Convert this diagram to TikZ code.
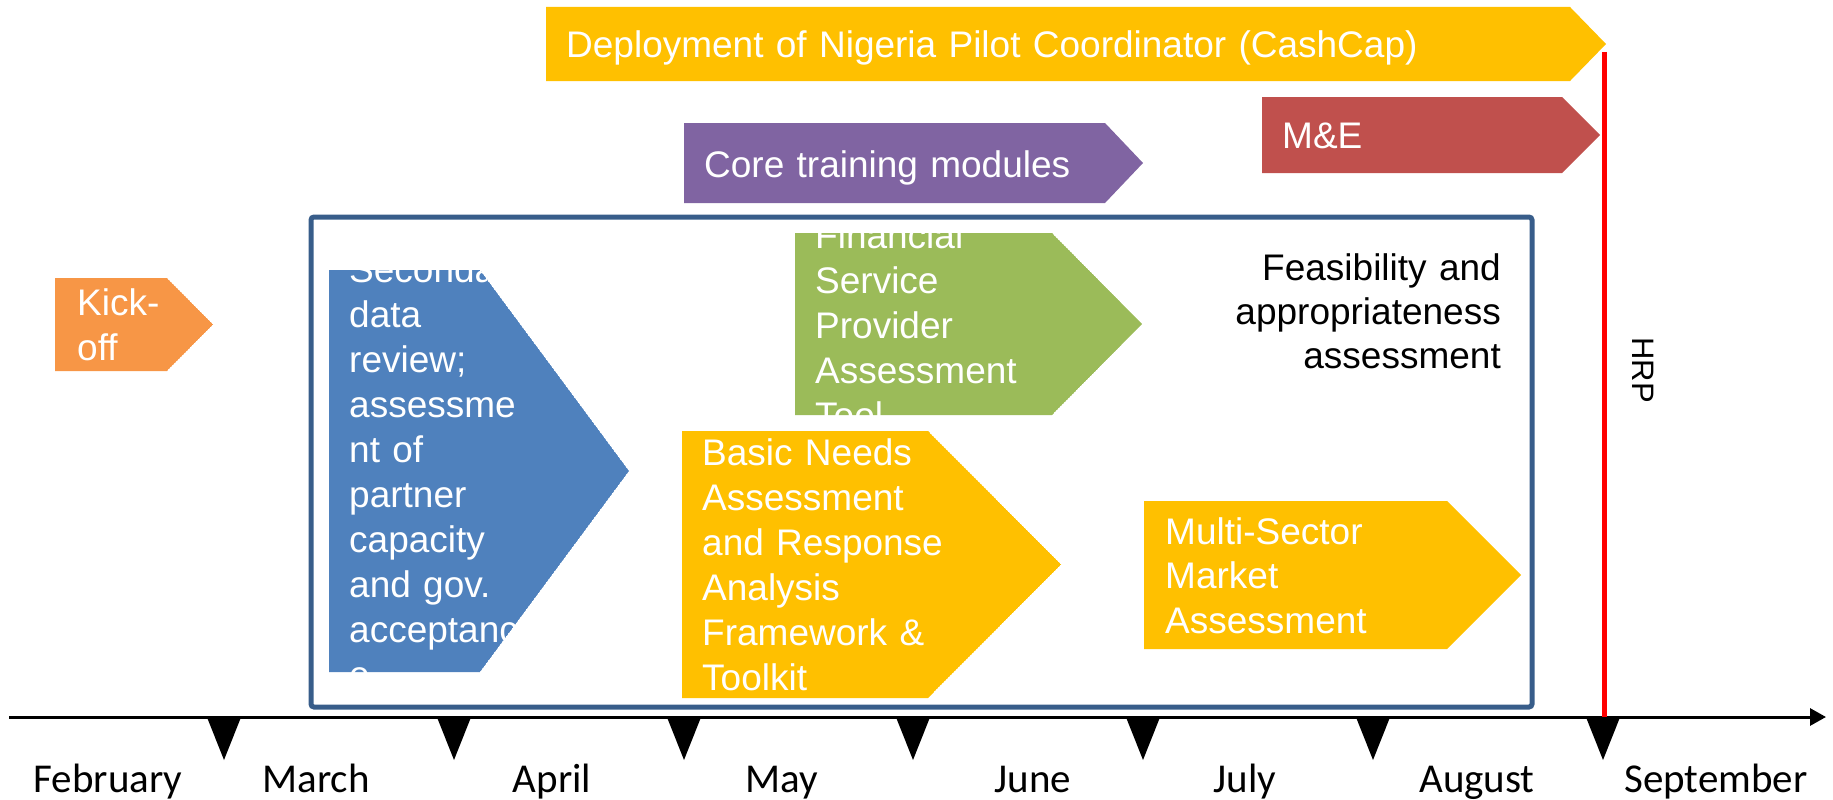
\documentclass[tikz,border=0pt]{standalone}
\usepackage{fontspec}
\setmainfont{Liberation Sans}
\newfontfamily\monthfont{Carlito}
\usetikzlibrary{arrows.meta}
\definecolor{cyellow}{HTML}{FFC000}
\definecolor{cpurple}{HTML}{8064A2}
\definecolor{cred}{HTML}{C0504D}
\definecolor{corange}{HTML}{F79646}
\definecolor{cblue}{HTML}{4F81BD}
\definecolor{cgreen}{HTML}{9BBB59}
\definecolor{cframe}{HTML}{385D8A}
% left, top, body end, tip, bottom
\newcommand\pentpath[5]{(#1,#2) -- (#3,#2) -- (#4,{0.5*(#2+#5)}) -- (#3,#5) -- (#1,#5) -- cycle}
\begin{document}
\begin{tikzpicture}[x=1pt,y=-1pt,
  boxtext/.style={text=white, font=\fontsize{37}{45}\selectfont, anchor=base west, inner sep=0pt, align=left, text width=1400pt},
  plaintext/.style={font=\fontsize{37}{44}\selectfont, anchor=base east, inner sep=0pt, align=right, text width=1000pt},
  monthlabel/.style={font=\monthfont\fontsize{41}{49}\selectfont, anchor=base, inner sep=0pt},
  ticktri/.style={fill=black},
  frameline/.style={draw=cframe, line width=5pt, rounded corners=3pt},
  hrpline/.style={draw=red, line width=5pt},
  axisline/.style={draw=black, line width=3pt, -{Triangle[length=16pt,width=17pt]}}
]
\useasboundingbox (0,0) rectangle (1833,800);

% Deployment
\fill[cyellow] \pentpath{546}{7}{1570}{1606}{81};
\node[boxtext] (deploy) at (566,58) {Deployment of Nigeria Pilot Coordinator (CashCap)};

% Core training modules
\fill[cpurple] \pentpath{684}{123}{1105}{1143}{203};
\node[boxtext] (core) at (704,177) {Core training modules};

% M&E
\fill[cred] \pentpath{1262}{97}{1562}{1600}{173};
\node[boxtext] (me) at (1282,148) {M\&E};

% Kick-off
\begin{scope}
  \clip \pentpath{55}{278}{167}{213}{371};
  \fill[corange] \pentpath{55}{278}{167}{213}{371};
  \node[boxtext] (kick) at (77,315) {Kick-\\off};
\end{scope}

% Secondary data review
\begin{scope}
  \clip \pentpath{329}{270}{480}{629}{672};
  \fill[cblue] \pentpath{329}{270}{480}{629}{672};
  \node[boxtext] (second) at (349,282) {Secondary\\data\\review;\\assessme\\nt of\\partner\\capacity\\and gov.\\acceptanc\\e};
\end{scope}

% Financial Service Provider Assessment Tool
\begin{scope}
  \clip \pentpath{795}{233}{1052}{1142}{415};
  \fill[cgreen] \pentpath{795}{233}{1052}{1142}{415};
  \node[boxtext] (fsp) at (815,248) {Financial\\Service\\Provider\\Assessment\\Tool};
\end{scope}

% Basic Needs
\begin{scope}
  \clip \pentpath{682}{431}{928}{1061}{698};
  \fill[cyellow] \pentpath{682}{431}{928}{1061}{698};
  \node[boxtext] (bna) at (702,465) {Basic Needs\\Assessment\\and Response\\Analysis\\Framework \&\\Toolkit};
\end{scope}

% Multi-Sector Market Assessment
\begin{scope}
  \clip \pentpath{1144}{501}{1447}{1521}{649};
  \fill[cyellow] \pentpath{1144}{501}{1447}{1521}{649};
  \node[boxtext, font=\fontsize{37}{44.5}\selectfont] (msma) at (1165,544) {Multi-Sector\\Market\\Assessment};
\end{scope}

% Feasibility label
\node[plaintext] (feas) at (1501,280) {Feasibility and\\appropriateness\\assessment};

% Frame
\draw[frameline] (311,217) rectangle (1532,707);

% Axis
\coordinate (axl) at (9,717);
\coordinate (axr) at (1826,717);
\draw[axisline] (axl) -- (axr);

% Ticks
\foreach \x [count=\i] in {224,454,684,913,1143,1373,1603} {
  \fill[ticktri] (\x-17.5,716) -- (\x+17.5,716) -- (\x,760) -- cycle;
}

% HRP line
\coordinate (hrptop) at (1604,52);
\coordinate (hrpbot) at (1604,717);
\draw[hrpline] (hrptop) -- (hrpbot);
\node[rotate=-90, font=\fontsize{31}{37}\selectfont, inner sep=0pt] (hrp) at (1643,370) {HRP};

% Months
\node[monthlabel] (feb) at (108,792) {February};
\node[monthlabel] (mar) at (316,792) {March};
\node[monthlabel] (apr) at (552,792) {April};
\node[monthlabel] (may) at (782,792) {May};
\node[monthlabel] (jun) at (1033,792) {June};
\node[monthlabel] (jul) at (1245,792) {July};
\node[monthlabel] (aug) at (1477,792) {August};
\node[monthlabel] (sep) at (1716,792) {September};
\end{tikzpicture}
\end{document}
